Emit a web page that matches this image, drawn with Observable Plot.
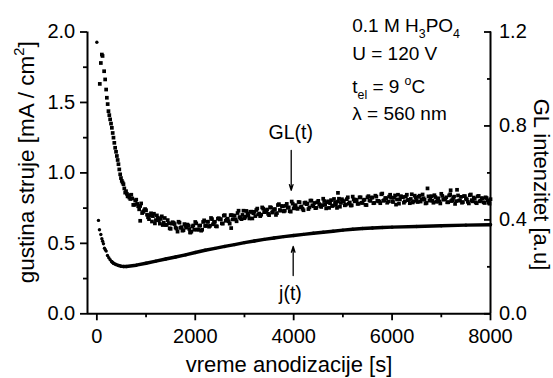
<!DOCTYPE html>
<html><head><meta charset="utf-8">
<script src="https://cdn.jsdelivr.net/npm/d3@7"></script>
<script src="https://cdn.jsdelivr.net/npm/@observablehq/plot@0.6"></script>
<style>html,body{margin:0;padding:0;background:#fff}</style>
</head><body><div id="chart"></div>
<script>
// ---- data: j(t) current density [mA/cm2], left axis ----
const jData = [[0,1.927],[33,0.663],[53,0.597],[81,0.563],[102,0.533],[118,0.515],[134,0.497],[155,0.466],[172,0.455],[189,0.445],[216,0.414],[243,0.398],[270,0.384],[304,0.370],[338,0.359],[388,0.350],[439,0.343],[490,0.338],[541,0.336],[600,0.336],[800,0.345],[1000,0.359],[1200,0.374],[1400,0.389],[1600,0.403],[1800,0.418],[2000,0.435],[2200,0.451],[2400,0.464],[2600,0.478],[2800,0.491],[3000,0.505],[3200,0.517],[3400,0.528],[3600,0.538],[3800,0.548],[4000,0.556],[4200,0.564],[4400,0.572],[4600,0.579],[4800,0.586],[5000,0.594],[5200,0.600],[5400,0.605],[5600,0.609],[5800,0.612],[6000,0.615],[6500,0.620],[7000,0.625],[7500,0.629],[8000,0.632]];

// ---- data: GL(t) intensity [a.u.], right axis ----
const glData = [[60,0.979],[81,1.068],[102,1.104],[116,1.098],[148,1.033],[169,0.998],[189,0.955],[203,0.920],[220,0.893],[236,0.863],[253,0.846],[270,0.828],[288,0.810],[305,0.792],[322,0.770],[338,0.750],[355,0.728],[372,0.707],[390,0.690],[407,0.672],[423,0.655],[439,0.637],[456,0.615],[474,0.594],[490,0.578],[507,0.566],[524,0.559],[541,0.552],[558,0.534],[576,0.516],[593,0.522],[610,0.511],[625,0.500],
[640,0.505],[680,0.489],[720,0.491],[760,0.464],[800,0.486],[840,0.458],[880,0.459],[881,0.396],[920,0.429],[960,0.440],[1000,0.441],
[1040,0.411],[1080,0.419],[1120,0.393],[1160,0.426],[1200,0.399],[1240,0.409],[1280,0.384],[1320,0.415],[1360,0.388],[1400,0.378],[1440,0.399],[1480,0.364],[1520,0.384],[1560,0.387],[1600,0.367],[1640,0.350],[1680,0.388],[1720,0.369],[1760,0.356],[1800,0.374],[1840,0.380],[1880,0.361],[1897,0.347],[1920,0.350],[1960,0.376],[2000,0.391],[2040,0.359],[2080,0.375],[2120,0.354],[2160,0.391],[2200,0.374],
[2240,0.392],[2280,0.371],[2320,0.408],[2360,0.381],[2400,0.392],[2440,0.372],[2480,0.407],[2520,0.403],[2560,0.384],[2600,0.420],[2640,0.402],[2680,0.394],[2720,0.420],[2730,0.365],[2760,0.402],[2800,0.418],[2840,0.394],[2880,0.439],[2920,0.407],[2960,0.421],[3000,0.407],
[3040,0.438],[3080,0.419],[3120,0.434],[3160,0.406],[3200,0.434],[3240,0.442],[3280,0.423],[3320,0.416],[3360,0.453],[3400,0.433],[3440,0.441],[3480,0.426],[3520,0.454],[3560,0.431],[3600,0.444],[3640,0.421],[3680,0.463],[3720,0.442],[3760,0.459],[3800,0.436],[3840,0.460],[3880,0.452],[3920,0.437],[3960,0.478],[4000,0.449],
[4040,0.462],[4080,0.447],[4120,0.475],[4160,0.457],[4200,0.441],[4240,0.474],[4280,0.469],[4320,0.453],[4360,0.482],[4400,0.458],[4440,0.450],[4480,0.475],[4520,0.467],[4560,0.455],[4600,0.490],[4640,0.464],[4680,0.475],[4720,0.451],[4760,0.484],[4800,0.461],[4840,0.475],[4880,0.451],[4900,0.515],[4920,0.490],[4960,0.472],[5000,0.482],
[5040,0.462],[5080,0.488],[5120,0.469],[5160,0.461],[5200,0.499],[5240,0.479],[5280,0.484],[5320,0.469],[5360,0.496],[5400,0.472],[5440,0.486],[5480,0.463],[5520,0.501],[5560,0.481],[5600,0.495],[5640,0.472],[5680,0.499],[5720,0.481],[5760,0.471],[5800,0.512],[5840,0.484],[5880,0.492],[5920,0.478],[5960,0.507],
[6000,0.479],[6040,0.494],[6080,0.465],[6120,0.507],[6160,0.487],[6200,0.497],[6240,0.473],[6280,0.499],[6320,0.484],[6360,0.471],[6400,0.509],[6440,0.479],[6480,0.495],[6520,0.476],[6560,0.503],[6600,0.487],[6640,0.492],[6680,0.470],[6720,0.534],[6760,0.482],[6800,0.501],[6840,0.473],[6880,0.497],[6920,0.484],[6960,0.478],[7000,0.511],
[7040,0.486],[7080,0.490],[7120,0.475],[7160,0.504],[7190,0.526],[7200,0.480],[7240,0.494],[7280,0.468],[7320,0.528],[7360,0.482],[7400,0.498],[7440,0.476],[7480,0.501],[7520,0.487],[7560,0.470],[7600,0.508],[7640,0.479],[7680,0.490],[7720,0.471],[7760,0.502],[7800,0.481],[7840,0.492],[7880,0.472],[7920,0.493],[7960,0.473],[8000,0.488]];

// ---- data: GL(t) intermediate samples ----
const glDataB = [[660,0.495],[700,0.507],[740,0.464],[780,0.482],[820,0.468],[860,0.445],[900,0.470],[940,0.434],[980,0.446],[1020,0.422],[1060,0.403],[1100,0.428],[1140,0.416],[1180,0.385],[1220,0.419],[1260,0.398],[1300,0.404],[1340,0.378],[1380,0.408],[1420,0.379],[1460,0.386],[1500,0.362],[1540,0.390],[1580,0.382],[1620,0.363],[1660,0.392],[1700,0.366],[1740,0.354],[1780,0.382],[1820,0.367],[1860,0.376],[1900,0.346],[1940,0.372],[1980,0.358],
[2020,0.385],[2060,0.358],[2100,0.376],[2140,0.358],[2180,0.398],[2220,0.375],[2260,0.392],[2300,0.375],[2340,0.403],[2380,0.388],[2420,0.373],[2460,0.405],[2500,0.402],[2540,0.385],[2580,0.418],[2620,0.396],[2660,0.405],[2700,0.384],[2740,0.420],[2780,0.418],[2820,0.402],[2860,0.429],[2900,0.412],[2940,0.403],[2980,0.439],
[3020,0.413],[3060,0.427],[3100,0.406],[3140,0.435],[3180,0.428],[3220,0.416],[3260,0.448],[3300,0.427],[3340,0.422],[3380,0.448],[3420,0.434],[3460,0.444],[3500,0.420],[3540,0.452],[3580,0.435],[3620,0.446],[3660,0.429],[3700,0.467],[3740,0.439],[3780,0.458],[3820,0.439],[3860,0.468],[3900,0.453],[3940,0.435],[3980,0.469],
[4020,0.461],[4060,0.449],[4100,0.476],[4140,0.454],[4180,0.447],[4220,0.472],[4260,0.467],[4300,0.446],[4340,0.482],[4380,0.462],[4420,0.472],[4460,0.451],[4500,0.481],[4540,0.459],[4580,0.463],[4620,0.480],[4660,0.449],[4700,0.479],[4740,0.471],[4780,0.459],[4820,0.489],[4860,0.466],[4900,0.478],[4940,0.456],[4980,0.488],
[5020,0.478],[5060,0.465],[5100,0.496],[5140,0.474],[5180,0.462],[5220,0.487],[5260,0.486],[5300,0.468],[5340,0.496],[5380,0.473],[5420,0.484],[5460,0.464],[5500,0.496],[5540,0.483],[5580,0.495],[5620,0.471],[5660,0.503],[5700,0.481],[5740,0.478],[5780,0.509],[5820,0.481],[5860,0.493],[5900,0.473],[5940,0.499],[5980,0.495],
[6020,0.476],[6060,0.504],[6100,0.487],[6140,0.469],[6180,0.501],[6220,0.497],[6260,0.479],[6300,0.507],[6340,0.485],[6380,0.489],[6420,0.474],[6460,0.503],[6500,0.483],[6540,0.498],[6580,0.478],[6620,0.508],[6660,0.486],[6700,0.472],[6740,0.500],[6780,0.494],[6820,0.481],[6860,0.505],[6900,0.477],[6940,0.492],[6980,0.470],
[7020,0.502],[7060,0.488],[7100,0.496],[7140,0.475],[7180,0.509],[7220,0.484],[7260,0.499],[7300,0.480],[7340,0.504],[7380,0.483],[7420,0.473],[7460,0.501],[7500,0.491],[7540,0.477],[7580,0.505],[7620,0.484],[7660,0.495],[7700,0.474],[7740,0.500],[7780,0.479],[7820,0.492],[7860,0.475],[7900,0.496],[7940,0.483],[7980,0.469]];

// ---- ticks / domains / texts ----
const xDomain = [-190, 8000];
const leftDomain = [0, 2.0];
const rightDomain = [0, 1.2];
const xMajor = [0, 2000, 4000, 6000, 8000];
const xMinor = [1000, 3000, 5000, 7000];
const leftMajor = [0, 0.5, 1.0, 1.5, 2.0];
const leftMinor = [0.25, 0.75, 1.25, 1.75];
const rightMajor = [0, 0.4, 0.8, 1.2];
const rightMinor = [0.2, 0.6, 1.0];
const xTitle = "vreme anodizacije [s]";
const yTitle = "gustina struje [mA / cm^{2}]";
const y2Title = "GL intenzitet [a.u]";
const annLines = ["0.1 M H_{3}PO_{4}", "U = 120 V", "t_{el} = 9 ^{o}C", "λ = 560 nm"];
const seriesLabels = ["GL(t)", "j(t)"];

// ---- layout (annotation anchors in data space) ----
const annX = 5190, annY = [2.0, 1.804, 1.567, 1.373];
const labelPos = [{x: 3940, y: 1.238}, {x: 3935, y: 0.10}];
const arrows = [{x: 3950, y1: 1.16, y2: 0.876}, {x: 3990, y1: 0.272, y2: 0.478}];
const titleY = {left: 1.075, right: 0.918};

const k = leftDomain[1] / rightDomain[1]; // right-axis units -> left-axis units
const j = jData.map(([t, v]) => ({t, v}));
const gl = glData.concat(glDataB).map(([t, v]) => ({t, v: v * k}));

const svg = Plot.plot({
  width: 553, height: 378,
  marginLeft: 87, marginRight: 63, marginTop: 31.5, marginBottom: 64.7,
  x: {domain: xDomain},
  y: {domain: leftDomain},
  style: {fontFamily: "'Liberation Sans', Arial, sans-serif", color: "black", background: "white", overflow: "visible"},
  marks: [
    Plot.ruleX([xDomain[0]], {strokeWidth: 2}),
    Plot.ruleX([xDomain[1]], {strokeWidth: 2}),
    Plot.ruleY([leftDomain[0]], {strokeWidth: 2}),
    Plot.axisX({ticks: xMajor, tickSize: 7, tickPadding: 7.7, fontSize: 20, tickFormat: d => String(d), label: null, strokeWidth: 1.8}),
    Plot.axisX({ticks: xMinor, tickSize: 4, tickFormat: () => "", label: null, strokeWidth: 1.8}),
    Plot.axisY({ticks: leftMajor, tickSize: 7, tickPadding: 5.3, fontSize: 20, tickFormat: d => d.toFixed(1), label: null, strokeWidth: 1.8}),
    Plot.axisY({ticks: leftMinor, tickSize: 4, tickFormat: () => "", label: null, strokeWidth: 1.8}),
    Plot.axisY({anchor: "right", ticks: rightMajor.map(v => v * k), tickSize: -7, tickPadding: 15.5, fontSize: 20, tickFormat: d => (d / k).toFixed(1), label: null, strokeWidth: 1.8}),
    Plot.axisY({anchor: "right", ticks: rightMinor.map(v => v * k), tickSize: -4, tickFormat: () => "", label: null, strokeWidth: 1.8}),
    Plot.dot(gl, {x: "t", y: "v", symbol: "square", r: 2.1, fill: "black"}),
    Plot.line(j.filter(d => d.t >= 304), {x: "t", y: "v", strokeWidth: 3.4}),
    Plot.dot(j, {x: "t", y: "v", r: 1.7, fill: "black"}),
    Plot.arrow(arrows, {x1: "x", x2: "x", y1: "y1", y2: "y2", headLength: 7, headAngle: 35, strokeWidth: 1.3}),
    Plot.text(seriesLabels, {x: (d, i) => labelPos[i].x, y: (d, i) => labelPos[i].y, text: d => d, lineAnchor: "bottom", fontSize: 19.5}),
    Plot.text(annLines, {x: () => annX, y: (d, i) => annY[i], text: d => d, textAnchor: "start", lineAnchor: "bottom", fontSize: 19}),
    Plot.text([yTitle], {x: () => xDomain[0], y: () => titleY.left, rotate: -90, dx: -61, text: d => d, fontSize: 22.5}),
    Plot.text([y2Title], {x: () => xDomain[1], y: () => titleY.right, rotate: 90, dx: 51, text: d => d, fontSize: 22}),
    Plot.text([xTitle], {frameAnchor: "bottom", dy: 58.4, lineAnchor: "bottom", text: d => d, fontSize: 22})
  ]
});
document.getElementById("chart").append(svg);

// rich text: _{sub} and ^{sup}
function richify(el) {
  const fs = parseFloat(getComputedStyle(el).fontSize) || 19;
  const parts = el.textContent.split(/(_\{[^}]*\}|\^\{[^}]*\})/).filter(s => s);
  el.textContent = "";
  let shift = 0;
  for (const p of parts) {
    const ts = document.createElementNS("http://www.w3.org/2000/svg", "tspan");
    let target = 0, txt = p, small = false;
    if (p.startsWith("_{")) { target = 0.3 * fs; txt = p.slice(2, -1); small = true; }
    else if (p.startsWith("^{")) { target = -0.42 * fs; txt = p.slice(2, -1); small = true; }
    ts.setAttribute("dy", String(target - shift));
    shift = target;
    if (small) ts.setAttribute("font-size", String(0.65 * fs));
    ts.textContent = txt;
    el.appendChild(ts);
  }
}
svg.querySelectorAll("text").forEach(t => { if (/[_^]\{/.test(t.textContent)) richify(t); });
</script>
</body></html>
